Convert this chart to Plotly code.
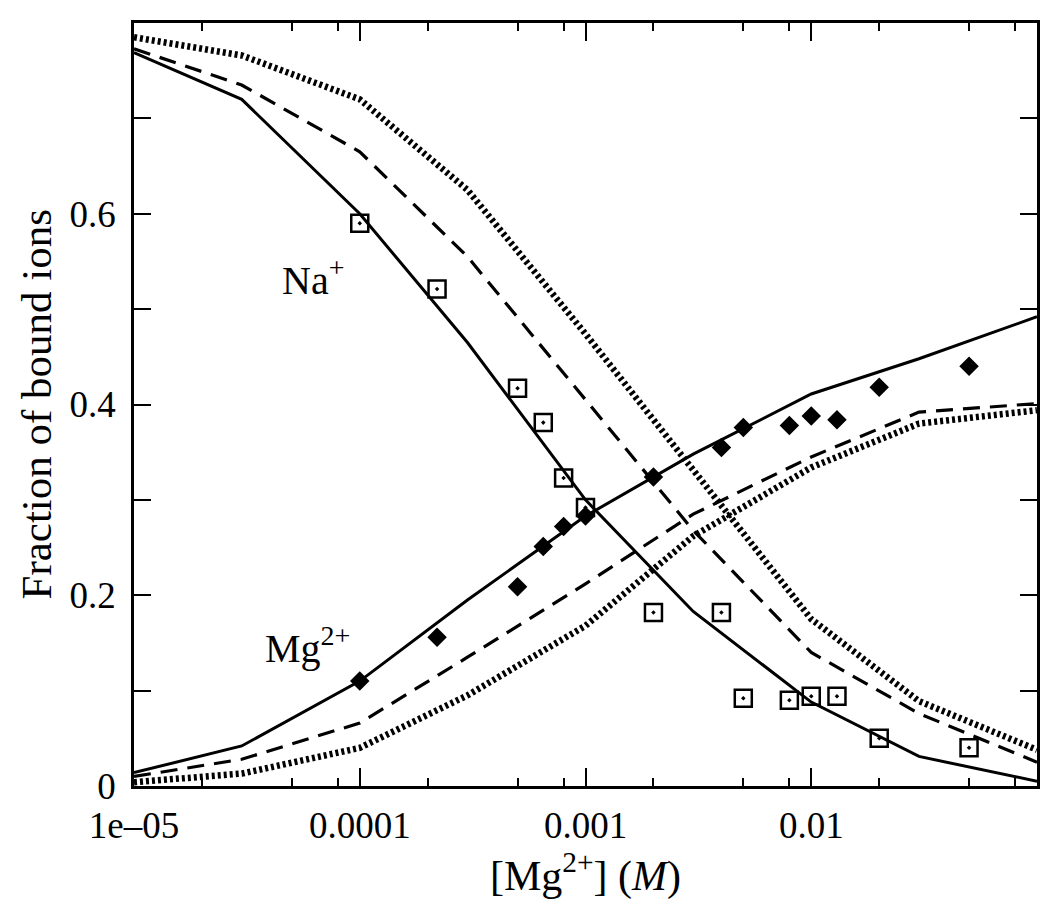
import plotly.graph_objects as go

# Model curves (x in M)
x_model = [1e-5, 3e-5, 1e-4, 3e-4, 1e-3, 3e-3, 1e-2, 3e-2, 1e-1]
na_solid = [0.769, 0.720, 0.600, 0.465, 0.300, 0.183, 0.088, 0.031, 0.005]
na_dash = [0.773, 0.735, 0.665, 0.555, 0.405, 0.268, 0.140, 0.076, 0.025]
na_dot = [0.785, 0.766, 0.720, 0.625, 0.474, 0.331, 0.175, 0.089, 0.038]
mg_solid = [0.014, 0.042, 0.110, 0.195, 0.283, 0.348, 0.411, 0.448, 0.492]
mg_dash = [0.010, 0.028, 0.066, 0.135, 0.212, 0.285, 0.345, 0.392, 0.401]
mg_dot = [0.004, 0.013, 0.040, 0.095, 0.168, 0.262, 0.334, 0.380, 0.394]

# Experimental points
x_exp = [1e-4, 2.2e-4, 5e-4, 6.5e-4, 8e-4, 1e-3, 2e-3, 4e-3, 5e-3, 8e-3, 1e-2, 1.3e-2, 2e-2, 5e-2]
na_exp = [0.590, 0.521, 0.417, 0.381, 0.323, 0.292, 0.182, 0.182, 0.092, 0.090, 0.094, 0.094, 0.050, 0.040]
mg_exp = [0.110, 0.156, 0.209, 0.251, 0.272, 0.283, 0.324, 0.355, 0.376, 0.378, 0.388, 0.384, 0.418, 0.440]

x_tickvals = [1e-5, 1e-4, 1e-3, 1e-2, 1e-1]
x_ticktext = ["1e\u201305", "0.0001", "0.001", "0.01", "0.1"]
x_minor = [m * d for d in [1e-5, 1e-4, 1e-3, 1e-2] for m in (2, 5, 8)]
y_tickvals = [0, 0.2, 0.4, 0.6, 0.8]
y_ticktext = ["0", "0.2", "0.4", "0.6", "0.8"]

FONT = "Liberation Serif"

fig = go.Figure()
styles = [("solid", 3), ("17px,10px", 3.2), ("3px,3px", 6.5)]
for ys, (dash, w) in zip([na_solid, na_dash, na_dot], styles):
    fig.add_trace(go.Scatter(x=x_model, y=ys, mode="lines",
                             line=dict(color="black", width=w, dash=dash)))
for ys, (dash, w) in zip([mg_solid, mg_dash, mg_dot], styles):
    fig.add_trace(go.Scatter(x=x_model, y=ys, mode="lines",
                             line=dict(color="black", width=w, dash=dash)))

fig.add_trace(go.Scatter(x=x_exp, y=na_exp, mode="markers",
                         marker=dict(symbol="square-open-dot", size=17, color="black",
                                     line=dict(color="black", width=2.5))))
fig.add_trace(go.Scatter(x=x_exp, y=mg_exp, mode="markers",
                         marker=dict(symbol="diamond", size=15, color="black",
                                     line=dict(width=0))))

fig.add_annotation(text="Na<sup>+</sup>", xref="paper", yref="paper", x=0.162, y=0.667,
                   xanchor="left", yanchor="middle", showarrow=False,
                   font=dict(family=FONT, size=40, color="black"))
fig.add_annotation(text="Mg<sup>2+</sup>", xref="paper", yref="paper", x=0.143, y=0.184,
                   xanchor="left", yanchor="middle", showarrow=False,
                   font=dict(family=FONT, size=40, color="black"))
# y-axis title
fig.add_annotation(text="Fraction of bound ions", xref="paper", yref="paper",
                   x=-0.1085, y=0.5, xanchor="center", yanchor="middle",
                   textangle=-90, showarrow=False,
                   font=dict(family=FONT, size=43, color="black"))

fig.update_layout(
    width=1050, height=902,
    margin=dict(l=126, r=21, t=13, b=124),
    paper_bgcolor="white", plot_bgcolor="white",
    showlegend=False,
    font=dict(family=FONT, size=37, color="black"),
    xaxis=dict(
        type="log", range=[-5, -1],
        tickmode="array", tickvals=x_tickvals, ticktext=x_ticktext,
        ticks="inside", ticklen=18, tickwidth=2, tickcolor="black",
        minor=dict(tickmode="array", tickvals=x_minor, ticks="inside", ticklen=8,
                   tickwidth=2, tickcolor="black", showgrid=False),
        showline=True, linecolor="black", linewidth=2.5, mirror="allticks",
        showgrid=False, zeroline=False, ticklabelstandoff=5,
        tickfont=dict(family=FONT, size=37),
        title=dict(text="[Mg<sup>2+</sup>] (<i>M</i>)", font=dict(family=FONT, size=42), standoff=9),
    ),
    yaxis=dict(
        range=[0, 0.8],
        tickmode="array", tickvals=y_tickvals, ticktext=y_ticktext,
        ticks="inside", ticklen=17, tickwidth=2, tickcolor="black",
        minor=dict(dtick=0.1, ticks="inside", ticklen=17, tickwidth=2,
                   tickcolor="black", showgrid=False),
        showline=True, linecolor="black", linewidth=2.5, mirror="allticks",
        showgrid=False, zeroline=False, ticklabelstandoff=8,
        tickfont=dict(family=FONT, size=37),
    ),
)

fig.write_html("out.html")
